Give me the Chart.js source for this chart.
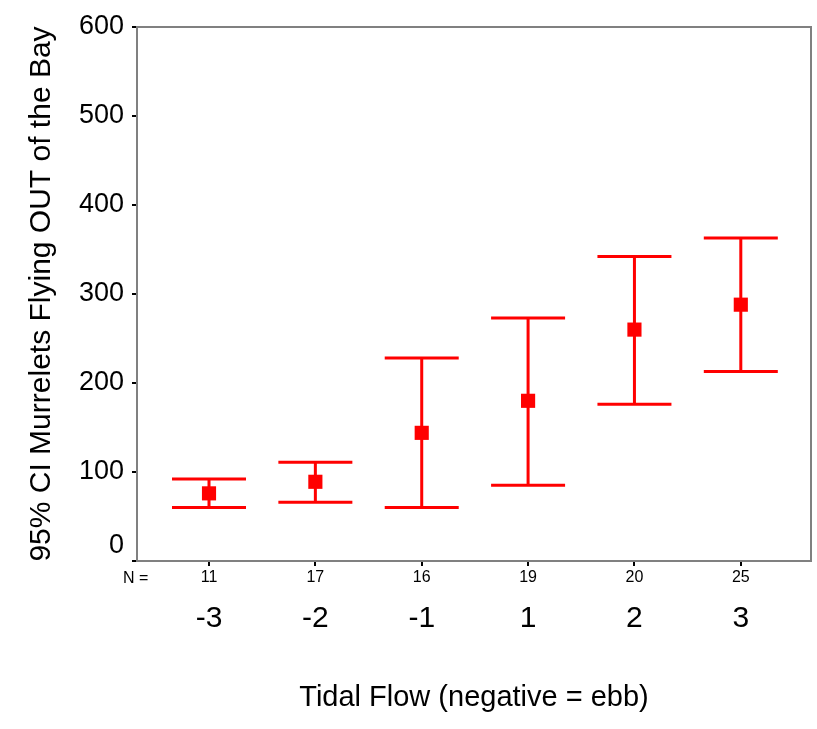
<!DOCTYPE html>
<html>
<head>
<meta charset="utf-8">
<script src="https://cdn.jsdelivr.net/npm/chart.js@4.4.1/dist/chart.umd.min.js"></script>
<style>
html,body{margin:0;padding:0;background:#fff;overflow:hidden;}
#wrap{width:817px;height:729px;position:relative;overflow:hidden;}
canvas{display:block;}
</style>
</head>
<body>
<div id="wrap"><canvas id="c" width="821" height="729"></canvas></div>
<script>
// ---- data ----
const categories = ['-3', '-2', '-1', '1', '2', '3'];
const nCounts = [11, 17, 16, 19, 20, 25];
const means = [76, 89, 144, 180, 260, 288];
const lowerCI = [60, 66, 60, 85, 176, 213];
const upperCI = [92, 111, 228, 273, 342, 363];
const yTicks = [0, 100, 200, 300, 400, 500, 600];

const positions = categories.map((c, i) => i + 1);
const XMIN = 0.323, XMAX = 6.66;
const FONT = "'Liberation Sans', Arial, sans-serif";

const errorBars = {
  id: 'errorBars',
  beforeDatasetsDraw(chart) {
    const {ctx, scales: {x, y}} = chart;
    ctx.save();
    ctx.strokeStyle = '#ff0000';
    ctx.lineWidth = 3;
    positions.forEach((p, i) => {
      const px = x.getPixelForValue(p);
      const yl = y.getPixelForValue(lowerCI[i]);
      const yu = y.getPixelForValue(upperCI[i]);
      const hw = 37;
      ctx.beginPath();
      ctx.moveTo(px, yl); ctx.lineTo(px, yu);
      ctx.moveTo(px - hw, yu); ctx.lineTo(px + hw, yu);
      ctx.moveTo(px - hw, yl); ctx.lineTo(px + hw, yl);
      ctx.stroke();
    });
    ctx.restore();
  },
  afterDraw(chart) {
    const {ctx, chartArea: a, scales: {x, y}} = chart;
    ctx.save();
    // frame (top & right)
    ctx.strokeStyle = '#808080';
    ctx.lineWidth = 2;
    ctx.beginPath();
    ctx.moveTo(a.left, a.top); ctx.lineTo(a.right, a.top); ctx.lineTo(a.right, a.bottom);
    ctx.stroke();
    // "0" label drawn raised (as in the original)
    ctx.fillStyle = '#000';
    ctx.font = "27px " + FONT;
    ctx.textAlign = 'right';
    ctx.textBaseline = 'middle';
    ctx.fillText('0', a.left - 13, y.getPixelForValue(0) - 15);
    // "N =" label
    ctx.font = "16px " + FONT;
    ctx.textAlign = 'left';
    ctx.fillText('N =', 123, 579);
    ctx.restore();
  }
};

const noPad = s => {
  s.paddingLeft = 0; s.paddingRight = 0; s.paddingTop = 0; s.paddingBottom = 0;
};

new Chart(document.getElementById('c'), {
  type: 'scatter',
  data: {
    datasets: [{
      data: positions.map((p, i) => ({x: p, y: means[i]})),
      pointStyle: 'rect',
      radius: 10,
      hoverRadius: 10,
      borderWidth: 0,
      backgroundColor: '#ff0000',
      borderColor: '#ff0000'
    }]
  },
  options: {
    responsive: false,
    animation: false,
    events: [],
    layout: {padding: {top: 27, right: 6, left: 0, bottom: 0}},
    plugins: {legend: false, title: false, subtitle: false, tooltip: {enabled: false}},
    scales: {
      x: {
        type: 'linear',
        position: 'bottom',
        min: XMIN, max: XMAX,
        afterBuildTicks: s => { s.ticks = positions.map(v => ({value: v})); },
        afterFit: s => { s.height = 27; noPad(s); },
        grid: {display: true, drawOnChartArea: false, drawTicks: true, tickLength: 5, color: '#000', lineWidth: 2},
        border: {display: true, color: '#808080', width: 2},
        ticks: {
          autoSkip: false, maxRotation: 0, padding: 2,
          color: '#000', font: {family: FONT, size: 16},
          callback: (v) => { const i = positions.indexOf(v); return i >= 0 ? String(nCounts[i]) : ''; }
        }
      },
      x2: {
        type: 'linear',
        position: 'bottom',
        min: XMIN, max: XMAX,
        afterBuildTicks: s => { s.ticks = positions.map(v => ({value: v})); },
        afterFit: s => { s.height = 141; noPad(s); },
        grid: {display: false, drawTicks: false},
        border: {display: false},
        ticks: {
          autoSkip: false, maxRotation: 0, padding: 13,
          color: '#000', font: {family: FONT, size: 30},
          callback: (v) => { const i = positions.indexOf(v); return i >= 0 ? categories[i] : ''; }
        },
        title: {
          display: true, text: 'Tidal Flow (negative = ebb)',
          color: '#000', font: {family: FONT, size: 29},
          padding: {top: 0, bottom: 14}
        }
      },
      y: {
        type: 'linear',
        min: 0, max: 600,
        afterBuildTicks: s => { s.ticks = yTicks.map(v => ({value: v})); },
        afterFit: s => { s.width = 137; noPad(s); },
        grid: {display: true, drawOnChartArea: false, drawTicks: true, tickLength: 5, color: '#000', lineWidth: 2},
        border: {display: true, color: '#808080', width: 2},
        ticks: {
          padding: 8, color: '#000', font: {family: FONT, size: 27},
          callback: v => v === 0 ? '' : String(v)
        },
        title: {
          display: true, text: '95% CI Murrelets Flying OUT of the Bay',
          color: '#000', font: {family: FONT, size: 30},
          padding: {top: 24, bottom: 0}
        }
      }
    }
  },
  plugins: [errorBars]
});
</script>
</body>
</html>
